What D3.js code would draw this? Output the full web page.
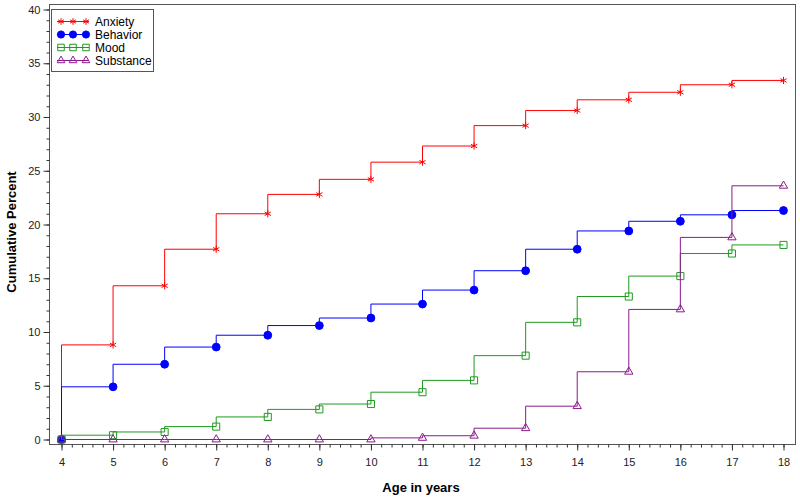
<!DOCTYPE html>
<html>
<head>
<meta charset="utf-8">
<script src="https://cdn.jsdelivr.net/npm/d3@7"></script>
<style>
  body { margin: 0; background: #fff; }
  text { font-family: Arial, "Liberation Sans", sans-serif; }
</style>
</head>
<body>
<svg></svg>
<script>
const w = 800
const h = 500

// data
const ages = [4, 5, 6, 7, 8, 9, 10, 11, 12, 13, 14, 15, 16, 17, 18]
const anxiety = [0, 8.8, 14.3, 17.7, 21.0, 22.8, 24.2, 25.8, 27.3, 29.2, 30.6, 31.6, 32.3, 33.0, 33.4]
const behavior = [0, 4.9, 7.0, 8.6, 9.7, 10.6, 11.3, 12.6, 13.9, 15.7, 17.7, 19.4, 20.3, 20.9, 21.3]
const mood = [0, 0.4, 0.7, 1.2, 2.1, 2.8, 3.3, 4.4, 5.5, 7.8, 10.9, 13.3, 15.2, 17.3, 18.1]
const substance = [0, 0, 0, 0, 0, 0, 0, 0.15, 0.35, 1.05, 3.1, 6.3, 12.1, 18.8, 23.6]
const yTicks = [0, 5, 10, 15, 20, 25, 30, 35, 40]
const seriesNames = ['Anxiety', 'Behavior', 'Mood', 'Substance']

const series = [
    { name: seriesNames[0], values: anxiety, color: '#ff0000', marker: 'star' },
    { name: seriesNames[1], values: behavior, color: '#0000ff', marker: 'circle' },
    { name: seriesNames[2], values: mood, color: '#1f9a1f', marker: 'square' },
    { name: seriesNames[3], values: substance, color: '#8b1a8b', marker: 'triangle' }
]

// frame of the plot area
const frame = { left: 49, right: 795, top: 4, bottom: 444 }

const svg = d3.select('svg').attr('width', w).attr('height', h)

const x = d3.scaleLinear().domain([4, 18]).range([61, 783])
const y = d3.scaleLinear().domain([0, 40]).range([439, 9])

svg.append('rect')
    .attr('x', frame.left + 0.5)
    .attr('y', frame.top + 0.5)
    .attr('width', frame.right - frame.left)
    .attr('height', frame.bottom - frame.top)
    .attr('fill', 'none')
    .attr('stroke', '#555')
    .attr('stroke-width', 1)

// x axis with minor ticks
const xMinor = d3.range(4, 18.001, 0.2)
svg.append('g')
    .attr('transform', `translate(0.5,${frame.bottom + 0.5})`)
    .call(d3.axisBottom(x).tickValues(xMinor).tickSize(3).tickFormat(''))
    .call(g => g.select('.domain').remove())
    .call(g => g.selectAll('line').attr('stroke', '#333'))
svg.append('g')
    .attr('transform', `translate(0.5,${frame.bottom + 0.5})`)
    .call(d3.axisBottom(x).tickValues(ages).tickSize(6).tickPadding(8).tickFormat(d3.format('d')))
    .call(g => g.select('.domain').remove())
    .call(g => g.selectAll('line').attr('stroke', '#333'))
    .call(g => g.selectAll('text').attr('font-size', 11).attr('fill', '#222'))

// y axis with minor ticks
const yMinor = d3.range(0, 41, 1)
svg.append('g')
    .attr('transform', `translate(${frame.left + 0.5},0.5)`)
    .call(d3.axisLeft(y).tickValues(yMinor).tickSize(3).tickFormat(''))
    .call(g => g.select('.domain').remove())
    .call(g => g.selectAll('line').attr('stroke', '#333'))
svg.append('g')
    .attr('transform', `translate(${frame.left + 0.5},0.5)`)
    .call(d3.axisLeft(y).tickValues(yTicks).tickSize(6).tickPadding(3))
    .call(g => g.select('.domain').remove())
    .call(g => g.selectAll('line').attr('stroke', '#333'))
    .call(g => g.selectAll('text').attr('font-size', 11).attr('fill', '#222'))

// axis labels
svg.append('text')
    .attr('x', 421)
    .attr('y', 492)
    .attr('text-anchor', 'middle')
    .attr('font-size', 13)
    .attr('font-weight', 'bold')
    .text('Age in years')

svg.append('text')
    .attr('transform', 'translate(16,232) rotate(-90)')
    .attr('text-anchor', 'middle')
    .attr('font-size', 13)
    .attr('font-weight', 'bold')
    .text('Cumulative Percent')

const symbolType = {
    star: d3.symbolAsterisk,
    circle: d3.symbolCircle,
    square: d3.symbolSquare,
    triangle: d3.symbolTriangle
}
const symbolSize = { star: 36, circle: 48, square: 50, triangle: 30 }

const drawMarker = (g, kind, color, cx, cy, scale = 1) => {
    g.append('path')
        .attr('d', d3.symbol(symbolType[kind], symbolSize[kind] * scale)())
        .attr('transform', `translate(${cx},${cy})`)
        .attr('fill', kind === 'circle' ? color : 'none')
        .attr('stroke', color)
        .attr('stroke-width', 1)
}

const line = d3.line()
    .x((d, i) => x(ages[i]))
    .y(d => y(d))
    .curve(d3.curveStepBefore)

const plot = svg.append('g').attr('transform', 'translate(0.5,0.5)')

series.forEach(s => {
    const g = plot.append('g').attr('id', s.name)
    g.append('path')
        .attr('d', line(s.values))
        .attr('fill', 'none')
        .attr('stroke', s.color)
        .attr('stroke-width', 1)
    s.values.forEach((v, i) => drawMarker(g, s.marker, s.color, x(ages[i]), y(v)))
})

// legend
const legend = svg.append('g')
legend.append('rect')
    .attr('x', 51.5)
    .attr('y', 9.5)
    .attr('width', 102)
    .attr('height', 62)
    .attr('fill', '#fff')
    .attr('stroke', '#555')

series.forEach((s, i) => {
    const ly = 21 + i * 13
    legend.append('line')
        .attr('x1', 57).attr('x2', 89)
        .attr('y1', ly + 0.5).attr('y2', ly + 0.5)
        .attr('stroke', s.color)
    ;[61, 73, 86].forEach(mx => drawMarker(legend, s.marker, s.color, mx, ly + 0.5, 0.85))
    legend.append('text')
        .attr('x', 95)
        .attr('y', ly + 4.5)
        .attr('font-size', 12)
        .text(s.name)
})
</script>
</body>
</html>
